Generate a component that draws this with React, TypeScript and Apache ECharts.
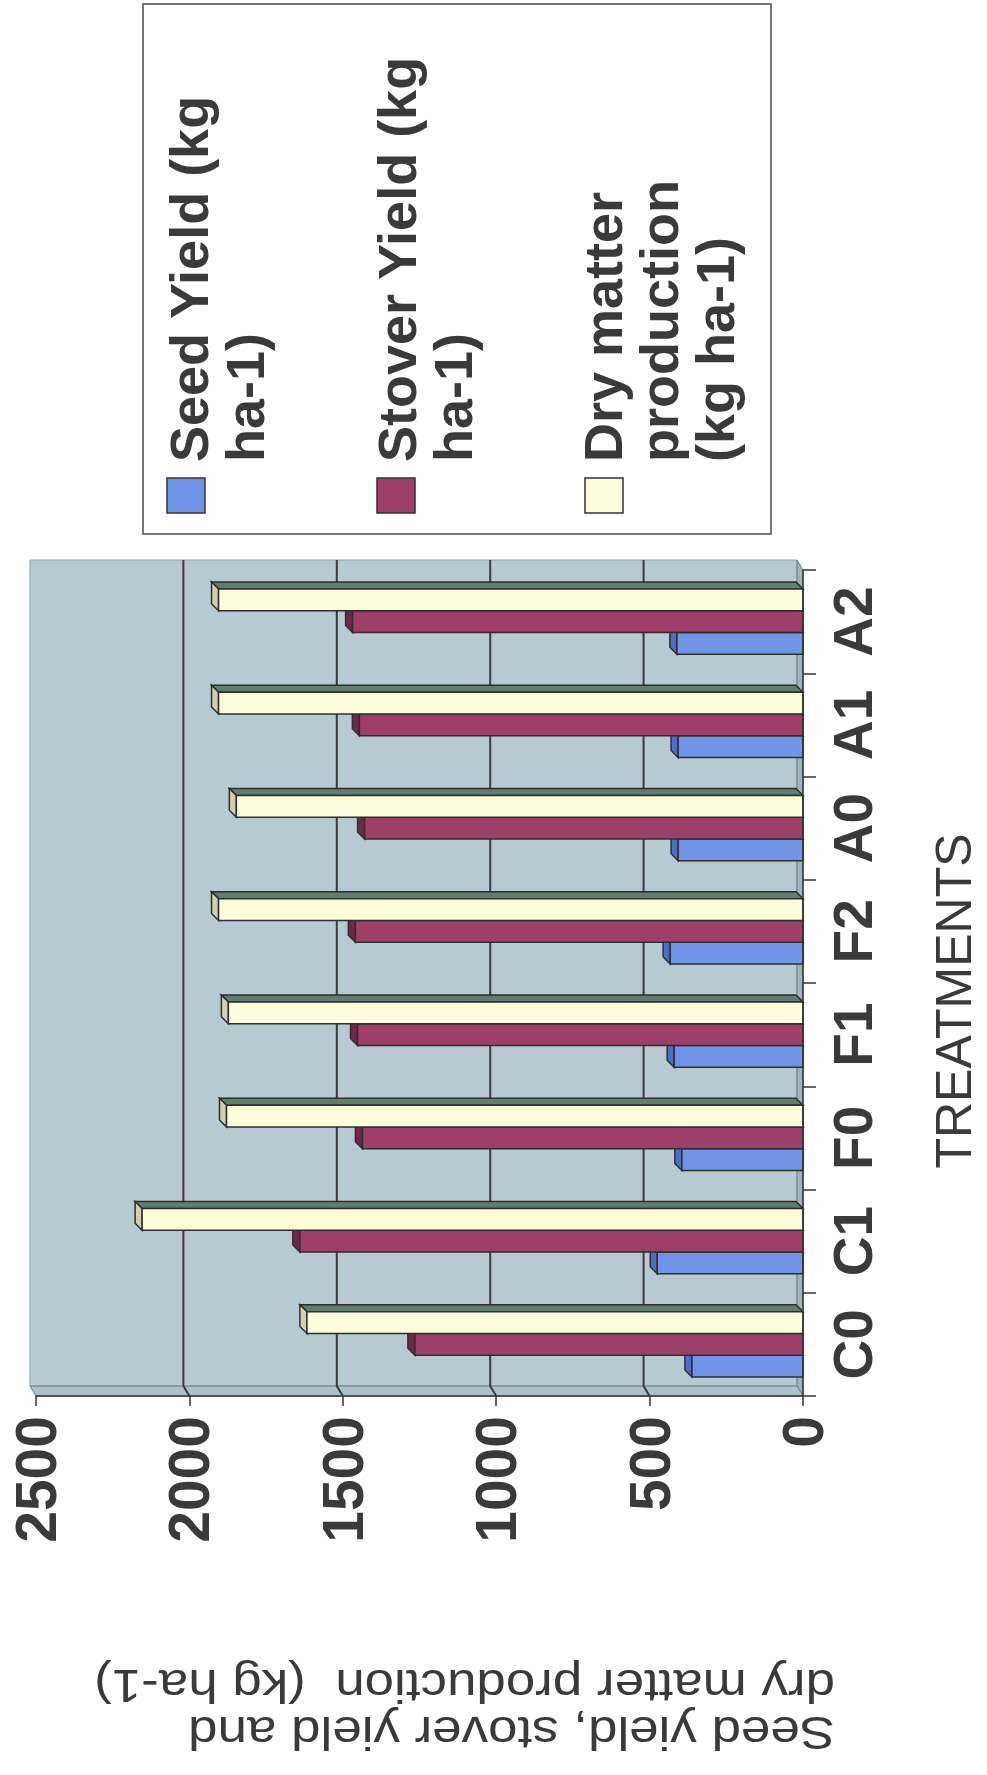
import React, { useEffect, useRef } from 'react';
import * as echarts from 'echarts';

const categories = ['C0', 'C1', 'F0', 'F1', 'F2', 'A0', 'A1', 'A2'];
const seedYield = [362, 475, 395, 420, 433, 407, 407, 411];
const stoverYield = [1265, 1640, 1436, 1452, 1459, 1429, 1446, 1468];
const dryMatter = [1617, 2154, 1879, 1873, 1905, 1847, 1905, 1905];
const seriesNames = ['Seed Yield (kg ha-1)', 'Stover Yield (kg ha-1)', 'Dry matter production (kg ha-1)'];
const legendLabels = ['Seed Yield (kg\nha-1)', 'Stover Yield (kg\nha-1)', 'Dry matter\nproduction\n(kg ha-1)'];
const valueTicks = [0, 500, 1000, 1500, 2000, 2500];
const categoryAxisTitle = 'TREATMENTS';
const valueAxisTitle = 'Seed yield, stover yield and\ndry matter production  (kg ha-1)';

const FONT = '"Liberation Sans", Arial, Helvetica, sans-serif';
const TEXT = '#3a3a3a';
const STROKE = '#2e2e2e';
const FACES = [
  { front: '#7094e6', cap: '#4e6ec6', side: '#4a62a6' },
  { front: '#9d3f69', cap: '#72274a', side: '#6a2a46' },
  { front: '#fdfcdc', cap: '#d2cfb4', side: '#627d6f' },
];
const WALL = '#b7c9d1';
const FLOOR = '#9fb3ba';
const SIDE = '#adc0c7';

const makeBarRender = (s: number) => (params: any, api: any) => {
  const val = api.value(0);
  const cat = api.value(1);
  const band = api.size([0, 1])[1];
  const base = api.coord([0, cat]);
  const end = api.coord([val, cat]);
  const bw = band * 0.211;
  const slot = 2 - s;
  const yTop = base[1] - 1.5 * bw + slot * bw;
  const yBot = yTop + bw;
  const x0 = base[0];
  const x1 = end[0];
  const d = 7;
  const c = FACES[s];
  return {
    type: 'group',
    children: [
      {
        type: 'polygon',
        shape: { points: [[x1, yTop], [x0, yTop], [x0 - d, yTop - d], [x1 - d, yTop - d]] },
        style: { fill: c.side, stroke: STROKE, lineWidth: 1.5 },
      },
      {
        type: 'polygon',
        shape: { points: [[x1, yTop], [x1 - d, yTop - d], [x1 - d, yBot - d], [x1, yBot]] },
        style: { fill: c.cap, stroke: STROKE, lineWidth: 1.5 },
      },
      {
        type: 'rect',
        shape: { x: x1, y: yTop, width: x0 - x1, height: bw },
        style: { fill: c.front, stroke: STROKE, lineWidth: 1.5 },
      },
    ],
  };
};

const wallRender = (params: any, api: any) => {
  const cs = params.coordSys;
  const left = cs.x;
  const right = cs.x + cs.width;
  const top = cs.y;
  const bottom = cs.y + cs.height;
  const dx = -6;
  const dy = -10;
  const children: any[] = [
    {
      type: 'rect',
      shape: { x: left + dx, y: top + dy, width: right - left, height: bottom - top },
      style: { fill: WALL, stroke: '#8fa3aa', lineWidth: 1 },
    },
    {
      type: 'polygon',
      shape: { points: [[right + dx, top + dy], [right, top], [right, bottom], [right + dx, bottom + dy]] },
      style: { fill: FLOOR, stroke: '#6d7f86', lineWidth: 1 },
    },
    {
      type: 'polygon',
      shape: { points: [[left + dx, bottom + dy], [right + dx, bottom + dy], [right, bottom], [left, bottom]] },
      style: { fill: SIDE, stroke: '#6d7f86', lineWidth: 1 },
    },
  ];
  const maxV = valueTicks[valueTicks.length - 1];
  valueTicks.forEach((v) => {
    if (v <= 0 || v >= maxV) return;
    const x = api.coord([v, 0])[0];
    children.push({
      type: 'polyline',
      shape: { points: [[x + dx, top + dy], [x + dx, bottom + dy], [x, bottom]] },
      style: { stroke: '#3b3b3b', lineWidth: 2, fill: null },
    });
  });
  return { type: 'group', children };
};

export default function App() {
  const ref = useRef<HTMLDivElement>(null);
  useEffect(() => {
    if (!ref.current) return;
    const chart = echarts.init(ref.current, undefined, { renderer: 'svg' });
    const seriesData = [seedYield, stoverYield, dryMatter];
    const squareX = [167, 377, 585];
    const textX = [161, 369, 575];
    const legendGraphic: any[] = [
      {
        type: 'rect',
        shape: { x: 143, y: 4, width: 628, height: 530 },
        style: { fill: '#ffffff', stroke: '#4a4a4a', lineWidth: 1.5 },
      },
    ];
    seriesNames.forEach((_, i) => {
      legendGraphic.push({
        type: 'rect',
        shape: { x: squareX[i], y: 478, width: 38, height: 35 },
        style: { fill: FACES[i].front, stroke: '#333', lineWidth: 1.5 },
      });
      legendGraphic.push({
        type: 'text',
        x: textX[i],
        y: 462,
        rotation: Math.PI / 2,
        style: {
          text: legendLabels[i],
          fontSize: 54,
          fontWeight: 'bold',
          fontFamily: FONT,
          fill: TEXT,
          align: 'left',
          verticalAlign: 'top',
          textAlign: 'left',
          textVerticalAlign: 'top',
          lineHeight: 56,
        },
      });
    });
    legendGraphic.push({
      type: 'text',
      x: 835,
      y: 1756,
      rotation: Math.PI,
      scaleX: 1.15,
      style: {
        text: valueAxisTitle,
        fontSize: 46,
        fontFamily: FONT,
        fill: TEXT,
        align: 'left',
        verticalAlign: 'top',
        textAlign: 'left',
        textVerticalAlign: 'top',
        lineHeight: 47,
      },
    });

    const option: any = {
      animation: false,
      backgroundColor: '#ffffff',
      textStyle: { fontFamily: FONT },
      grid: { left: 36, right: 178, top: 570, bottom: 379, containLabel: false },
      xAxis: {
        type: 'value',
        inverse: true,
        position: 'bottom',
        min: valueTicks[0],
        max: valueTicks[valueTicks.length - 1],
        interval: valueTicks[1] - valueTicks[0],
        z: 5,
        axisLine: { show: true, lineStyle: { color: '#333', width: 1.5 } },
        axisTick: { show: true, length: 10, lineStyle: { color: '#333', width: 1.5 } },
        splitLine: { show: false },
        axisLabel: {
          rotate: 90,
          margin: 20,
          fontSize: 57,
          fontWeight: 'bold',
          color: TEXT,
          fontFamily: FONT,
          formatter: (v: number) => String(v),
        },
      },
      yAxis: {
        type: 'category',
        data: categories,
        position: 'right',
        z: 5,
        axisLine: { show: true, lineStyle: { color: '#333', width: 1.5 } },
        axisTick: { show: true, length: 13, lineStyle: { color: '#333', width: 1.5 } },
        splitLine: { show: false },
        axisLabel: {
          rotate: 90,
          margin: 22,
          fontSize: 55,
          fontWeight: 'bold',
          color: TEXT,
          fontFamily: FONT,
        },
        name: categoryAxisTitle,
        nameLocation: 'middle',
        nameRotate: 90,
        nameGap: 126,
        nameTextStyle: { fontSize: 50, color: TEXT, fontFamily: FONT, padding: [0, 36, 0, 0] },
      },
      graphic: legendGraphic,
      series: [
        {
          type: 'custom',
          name: 'wall',
          silent: true,
          clip: false,
          z: 1,
          renderItem: wallRender,
          encode: { x: 0, y: 1 },
          data: [[0, 0]],
        },
        ...seriesNames.map((name, s) => ({
          type: 'custom',
          name,
          silent: true,
          clip: false,
          z: 2,
          renderItem: makeBarRender(s),
          encode: { x: 0, y: 1 },
          data: seriesData[s].map((v, i) => [v, i]),
        })),
      ],
    };
    chart.setOption(option);
    return () => chart.dispose();
  }, []);
  return (
    <div
      ref={ref}
      style={{ position: 'absolute', left: 0, top: 0, width: 987, height: 1775, background: '#fff' }}
    />
  );
}
